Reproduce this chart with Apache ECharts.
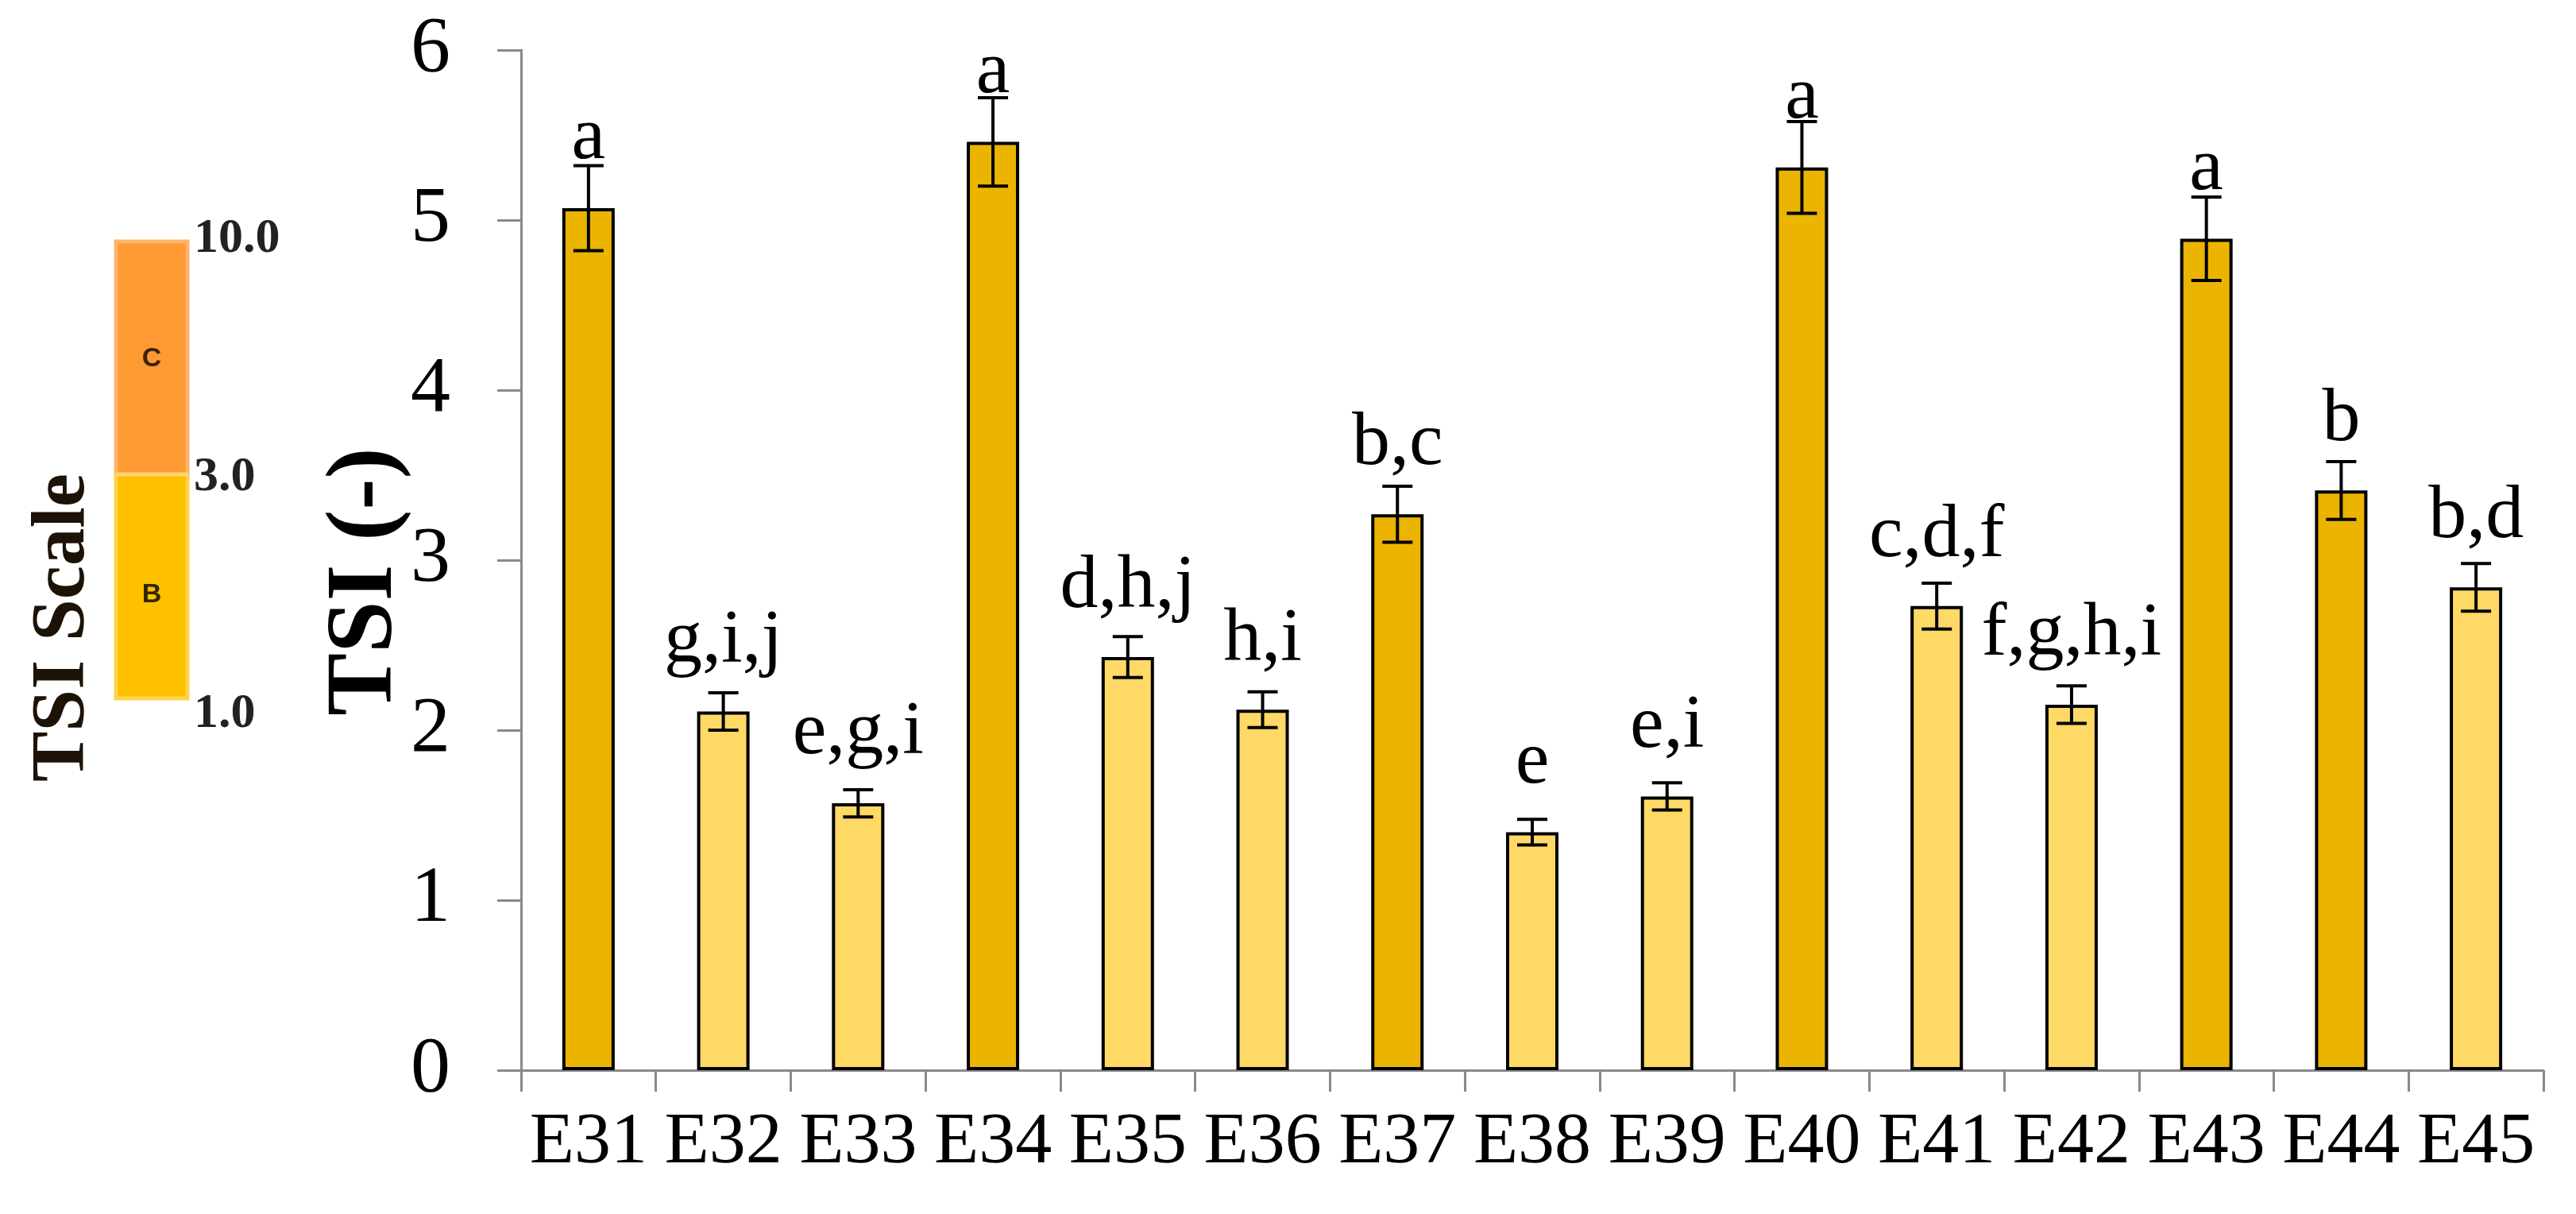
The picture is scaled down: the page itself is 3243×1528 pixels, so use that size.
<!DOCTYPE html>
<html>
<head>
<meta charset="utf-8">
<script src="https://cdn.jsdelivr.net/npm/echarts@6/dist/echarts.min.js"></script>
<style>
html,body{margin:0;padding:0;background:#fff;}
#chart{width:3243px;height:1528px;}
</style>
</head>
<body>
<div id="chart"></div>
<script>
// ---- data ----
const categories = ['E31','E32','E33','E34','E35','E36','E37','E38','E39','E40','E41','E42','E43','E44','E45'];
const tsiValues  = [5.07, 2.11, 1.57, 5.46, 2.43, 2.12, 3.27, 1.40, 1.61, 5.31, 2.73, 2.15, 4.89, 3.41, 2.84];
const tsiErrors  = [0.25, 0.11, 0.08, 0.26, 0.12, 0.105, 0.165, 0.075, 0.08, 0.27, 0.135, 0.11, 0.245, 0.17, 0.14];
const groupLetters = ['a','g,i,j','e,g,i','a','d,h,j','h,i','b,c','e','e,i','a','c,d,f','f,g,h,i','a','b','b,d'];
const tsiClass   = ['C','B','B','C','B','B','C','B','B','C','B','B','C','C','B'];
const yTicks = [0, 6, 1]; // min, max, interval
const yTitle = 'TSI (-)';
const scaleTitle = 'TSI Scale';
const scaleTickLabels = ['10.0', '3.0', '1.0'];
const scaleClasses = ['C', 'B'];

// ---- styles ----
const darkColor = '#EBB400';
const lightColor = '#FFD966';
const serif = '"Liberation Serif", "Times New Roman", serif';

const chart = echarts.init(document.getElementById('chart'));

const barData = tsiValues.map((v, i) => ({
  value: v,
  itemStyle: { color: tsiClass[i] === 'C' ? darkColor : lightColor }
}));
const errData = tsiValues.map((v, i) => [i, v - tsiErrors[i], v + tsiErrors[i]]);

const option = {
  backgroundColor: '#fff',
  animation: false,
  grid: { left: 656, right: 41, top: 63, bottom: 181, containLabel: false },
  xAxis: {
    type: 'category',
    data: categories,
    axisLine: { lineStyle: { color: '#898989', width: 3 } },
    axisTick: { show: true, length: 27, lineStyle: { color: '#898989', width: 3 } },
    axisLabel: { fontFamily: serif, fontSize: 92, color: '#000', margin: 46, interval: 0 }
  },
  yAxis: {
    type: 'value',
    min: yTicks[0], max: yTicks[1], interval: yTicks[2],
    axisLine: { show: true, lineStyle: { color: '#898989', width: 3 } },
    axisTick: { show: true, length: 30, lineStyle: { color: '#898989', width: 3 } },
    splitLine: { show: false },
    axisLabel: { fontFamily: serif, fontSize: 100, color: '#000', margin: 89 }
  },
  series: [
    {
      type: 'bar',
      data: barData,
      barWidth: 66,
      itemStyle: { borderColor: '#000', borderWidth: 4 },
      label: {
        show: true,
        position: 'top',
        distance: 40,
        fontFamily: serif,
        fontSize: 96,
        color: '#000',
        formatter: p => groupLetters[p.dataIndex]
      },
      z: 2
    },
    {
      type: 'custom',
      data: errData,
      z: 3,
      renderItem: function (params, api) {
        const x = api.value(0);
        const lo = api.coord([x, api.value(1)]);
        const hi = api.coord([x, api.value(2)]);
        const half = 19;
        const st = { stroke: '#000', lineWidth: 4 };
        return {
          type: 'group',
          children: [
            { type: 'line', shape: { x1: lo[0], y1: lo[1], x2: hi[0], y2: hi[1] }, style: st },
            { type: 'line', shape: { x1: lo[0] - half, y1: lo[1], x2: lo[0] + half, y2: lo[1] }, style: st },
            { type: 'line', shape: { x1: hi[0] - half, y1: hi[1], x2: hi[0] + half, y2: hi[1] }, style: st }
          ]
        };
      }
    }
  ],
  graphic: [
    // y-axis title
    { type: 'text', x: 462, y: 732, rotation: Math.PI / 2,
      style: { text: yTitle, fontFamily: serif, fontWeight: 'bold', fontSize: 118, fill: '#000', align: 'center', verticalAlign: 'middle' } },
    // TSI scale legend
    { type: 'rect', shape: { x: 146, y: 304, width: 90, height: 293 },
      style: { fill: '#FF9A33', stroke: '#FFB36B', lineWidth: 5 } },
    { type: 'rect', shape: { x: 146, y: 597, width: 90, height: 282 },
      style: { fill: '#FFC000', stroke: '#FFD24D', lineWidth: 5 } },
    { type: 'line', shape: { x1: 146, y1: 597, x2: 236, y2: 597 },
      style: { stroke: '#FFD27A', lineWidth: 4 } },
    { type: 'text', x: 191, y: 452, style: { text: scaleClasses[0], fontFamily: '"Liberation Sans", Arial, sans-serif', fontWeight: 'bold', fontSize: 34, fill: '#3a2208', align: 'center', verticalAlign: 'middle' } },
    { type: 'text', x: 191, y: 749, style: { text: scaleClasses[1], fontFamily: '"Liberation Sans", Arial, sans-serif', fontWeight: 'bold', fontSize: 34, fill: '#2e2606', align: 'center', verticalAlign: 'middle' } },
    { type: 'text', x: 244, y: 301, style: { text: scaleTickLabels[0], fontFamily: serif, fontWeight: 'bold', fontSize: 62, fill: '#222', align: 'left', verticalAlign: 'middle' } },
    { type: 'text', x: 244, y: 601, style: { text: scaleTickLabels[1], fontFamily: serif, fontWeight: 'bold', fontSize: 62, fill: '#222', align: 'left', verticalAlign: 'middle' } },
    { type: 'text', x: 244, y: 899, style: { text: scaleTickLabels[2], fontFamily: serif, fontWeight: 'bold', fontSize: 62, fill: '#222', align: 'left', verticalAlign: 'middle' } },
    { type: 'text', x: 80, y: 790, rotation: Math.PI / 2,
      style: { text: scaleTitle, fontFamily: serif, fontWeight: 'bold', fontSize: 95, fill: '#1c1206', align: 'center', verticalAlign: 'middle' } }
  ]
};
chart.setOption(option);
</script>
</body>
</html>
